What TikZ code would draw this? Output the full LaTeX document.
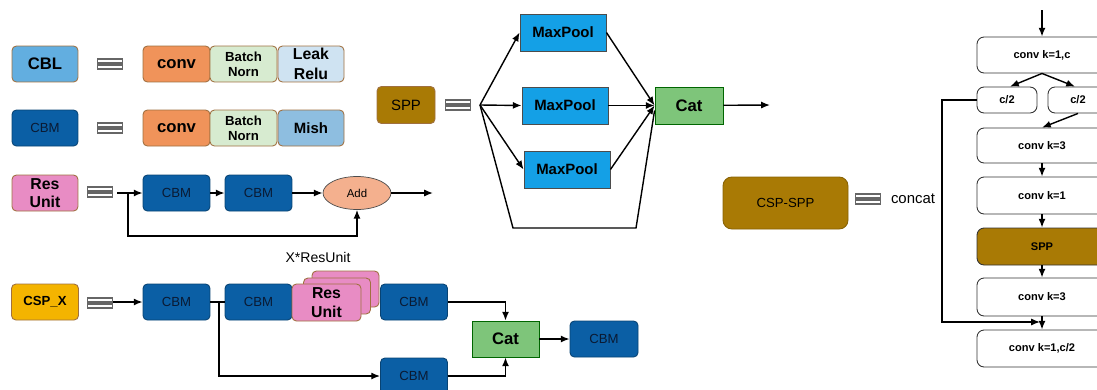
\documentclass[tikz,border=0pt]{standalone}
\usepackage{fontspec}
\setmainfont{Liberation Sans}
\usetikzlibrary{arrows.meta,shapes.geometric}

\definecolor{cblblue}{HTML}{62AEE0}
\definecolor{cbmblue}{HTML}{0B5FA5}
\definecolor{convorange}{HTML}{F0935A}
\definecolor{bngreen}{HTML}{D7EBD0}
\definecolor{relublue}{HTML}{CFE3F2}
\definecolor{mishblue}{HTML}{8EBEE0}
\definecolor{respink}{HTML}{E88CC4}
\definecolor{addpeach}{HTML}{F4B08E}
\definecolor{cspgold}{HTML}{F4B400}
\definecolor{sppgold}{HTML}{A97A05}
\definecolor{poolblue}{HTML}{14A0E6}
\definecolor{catgreen}{HTML}{7EC57A}
\definecolor{edgebrown}{HTML}{A07040}
\definecolor{navytext}{HTML}{0A1A33}

\newcommand\bigbf{\fontsize{9.5}{10}\selectfont\bfseries}
\newcommand\midbf{\fontsize{7.5}{8.5}\selectfont\bfseries}
\newcommand\midrm{\fontsize{7.5}{8.5}\selectfont}
\newcommand\tinybf{\fontsize{6.3}{7}\selectfont\bfseries}

\tikzset{
  box/.style={rounded corners=2.5pt, minimum height=0.72cm, inner sep=0pt,
    align=center, line width=0.5pt, draw=edgebrown},
  cbm/.style={box, fill=cbmblue, draw=cbmblue!70!black, text=navytext,
    minimum width=1.34cm, font=\midrm},
  pool/.style={box, rounded corners=0pt, fill=poolblue, draw=black!70,
    minimum width=1.72cm, minimum height=0.74cm, font=\fontsize{8.5}{9}\selectfont\bfseries},
  catbox/.style={box, rounded corners=0pt, fill=catgreen, draw=black!60!green,
    minimum width=1.36cm, minimum height=0.74cm, font=\bigbf},
  stage/.style={box, draw=black!80, fill=white, rounded corners=4pt,
    minimum width=2.6cm, font=\tinybf},
  link/.style={line width=0.8pt, -{Latex[length=5pt,width=4pt]}},
  wire/.style={line width=0.8pt},
  eqsign/.pic={
    \draw[draw=black!60, fill=white, line width=0.6pt] (-12.5,-5) rectangle (12.5,-1);
    \draw[draw=black!60, fill=white, line width=0.6pt] (-12.5,1) rectangle (12.5,5);
  }
}

\begin{document}
\begin{tikzpicture}[x=0.02cm, y=-0.02cm]
  \useasboundingbox (0,0) rectangle (1097,389);

  % CBL and CBM
  \node[box, fill=cblblue, minimum width=1.32cm, font=\bigbf] (cbl) at (45,64) {CBL};
  \pic at (110,64) {eqsign};
  \node[box, fill=convorange, minimum width=1.34cm, font=\bigbf] (convA) at (176.5,64) {conv};
  \node[box, fill=bngreen, minimum width=1.34cm, font=\midbf] (bnA) at (243.5,64) {Batch\\Norn};
  \node[box, fill=relublue, minimum width=1.32cm, font=\fontsize{9}{11}\selectfont\bfseries] (relu) at (311,64) {Leak\\Relu};

  \node[cbm, minimum width=1.32cm] (cbm) at (45,128) {CBM};
  \pic at (110,128) {eqsign};
  \node[box, fill=convorange, minimum width=1.34cm, font=\bigbf] (convB) at (176.5,128) {conv};
  \node[box, fill=bngreen, minimum width=1.34cm, font=\midbf] (bnB) at (243.5,128) {Batch\\Norn};
  \node[box, fill=mishblue, minimum width=1.32cm, font=\fontsize{8.5}{9}\selectfont\bfseries] (mish) at (311,128) {Mish};

  % Res unit
  \node[box, fill=respink, minimum width=1.32cm, font=\fontsize{9}{10.5}\selectfont\bfseries] (res) at (45,193) {Res\\Unit};
  \pic at (100,192) {eqsign};
  \coordinate (resin) at (117,193);
  \coordinate (resfork) at (128,193);
  \node[cbm] (cbmA) at (176.5,193) {CBM};
  \node[cbm] (cbmB) at (258.5,193) {CBM};
  \node[ellipse, draw=black!70, fill=addpeach, minimum width=1.36cm, minimum height=0.66cm,
    inner sep=0pt, font=\fontsize{6.5}{7}\selectfont] (add) at (357,193) {Add};
  \coordinate (resout) at (433,193);
  \draw[link] (resin) -- (cbmA);
  \draw[link] (cbmA) -- (cbmB);
  \draw[link] (cbmB) -- (add);
  \draw[link] (add) -- (resout);
  \draw[link] (resfork) |- (357,236) -- (add.south);

  % CSP_X
  \node[box, fill=cspgold, minimum width=1.34cm, font=\midbf] (cspx) at (45,302) {CSP\_X};
  \pic at (100,303) {eqsign};
  \coordinate (cspin) at (113,302);
  \node[cbm] (cbmC) at (176.5,302) {CBM};
  \node[cbm] (cbmD) at (258.5,302) {CBM};
  \node[box, fill=respink, minimum width=1.34cm, minimum height=0.72cm] (resC) at (345.5,289) {};
  \node[box, fill=respink, minimum width=1.34cm, minimum height=0.72cm] (resB) at (337,296) {};
  \node[box, fill=respink, minimum width=1.38cm, minimum height=0.74cm,
    font=\fontsize{9}{10.5}\selectfont\bfseries] (resA) at (326.5,302.5) {Res\\Unit};
  \node[font=\fontsize{8}{9}\selectfont] (times) at (318,257) {X*ResUnit};
  \node[cbm] (cbmE) at (414,302) {CBM};
  \node[cbm] (cbmF) at (414,376) {CBM};
  \node[catbox, minimum width=1.34cm, minimum height=0.72cm] (catB) at (505.5,339) {Cat};
  \node[cbm, minimum width=1.36cm] (cbmG) at (604,339) {CBM};
  \coordinate (cspfork) at (219,302);
  \draw[link] (cspin) -- (cbmC);
  \draw[wire] (cbmC) -- (cbmD);
  \draw[link] (cspfork) |- (cbmF);
  \draw[link] (cbmE.east) -| (catB.north);
  \draw[link] (cbmF.east) -| (catB.south);
  \draw[link] (catB) -- (cbmG);

  % SPP
  \node[box, fill=sppgold, minimum width=1.16cm, minimum height=0.74cm,
    font=\fontsize{8.5}{9}\selectfont] (spp) at (406,105) {SPP};
  \pic at (458,105) {eqsign};
  \coordinate (sppin) at (480,105);
  \node[pool] (mpA) at (563,32.5) {MaxPool};
  \node[pool] (mpB) at (565,105.5) {MaxPool};
  \node[pool] (mpC) at (567,169.5) {MaxPool};
  \node[catbox] (catA) at (689,105.5) {Cat};
  \coordinate (sppout) at (770,105);
  \draw[link] (sppin) -- (mpA.west);
  \draw[link] (sppin) -- (mpB.west);
  \draw[link] (sppin) -- (mpC.west);
  \draw[link] (mpA.east) -- (catA.west);
  \draw[link] (mpB.east) -- (catA.west);
  \draw[link] (mpC.east) -- (catA.west);
  \draw[wire] (sppin) -- (513,228) -- (636,228) -- ([yshift=-0.1cm]catA.west);
  \draw[link] (catA) -- (sppout);

  % CSP-SPP
  \node[box, fill=sppgold, draw=sppgold!80!black, rounded corners=5pt, minimum width=2.5cm,
    minimum height=1.04cm, font=\midrm] (cspspp) at (785.5,203) {CSP-SPP};
  \pic at (868,199) {eqsign};
  \node[font=\fontsize{8.5}{9}\selectfont] (concat) at (913,199) {concat};

  % CSP-SPP block
  \coordinate (top) at (1042,10);
  \node[stage] (kA) at (1042,55) {conv k=1,c};
  \node[stage, minimum width=1.2cm, minimum height=0.52cm] (halfA) at (1007,100) {c/2};
  \node[stage, minimum width=1.2cm, minimum height=0.52cm] (halfB) at (1078,100) {c/2};
  \node[stage, minimum height=0.7cm] (kB) at (1042,145.5) {conv k=3};
  \node[stage, minimum height=0.74cm] (kC) at (1042,195.5) {conv k=1};
  \node[stage, fill=sppgold, minimum height=0.74cm] (sppR) at (1042,246.5) {SPP};
  \node[stage, minimum height=0.76cm] (kD) at (1042,297) {conv k=3};
  \node[stage, minimum height=0.74cm] (kE) at (1042,348.5) {conv k=1,c/2};
  \draw[link] (top) -- (kA);
  \draw[link] (kA.south) -- ([xshift=0.06cm]halfA.north);
  \draw[link] (kA.south) -- ([xshift=-0.06cm]halfB.north);
  \draw[link] (halfB.south) -- (kB.north);
  \draw[link] (kB) -- (kC);
  \draw[link] (kC) -- (sppR);
  \draw[link] (sppR) -- (kD);
  \draw[link] (kD) -- (kE);
  \draw[link] (halfA.west) -| (942,322) -- (1040,322);
\end{tikzpicture}
\end{document}
